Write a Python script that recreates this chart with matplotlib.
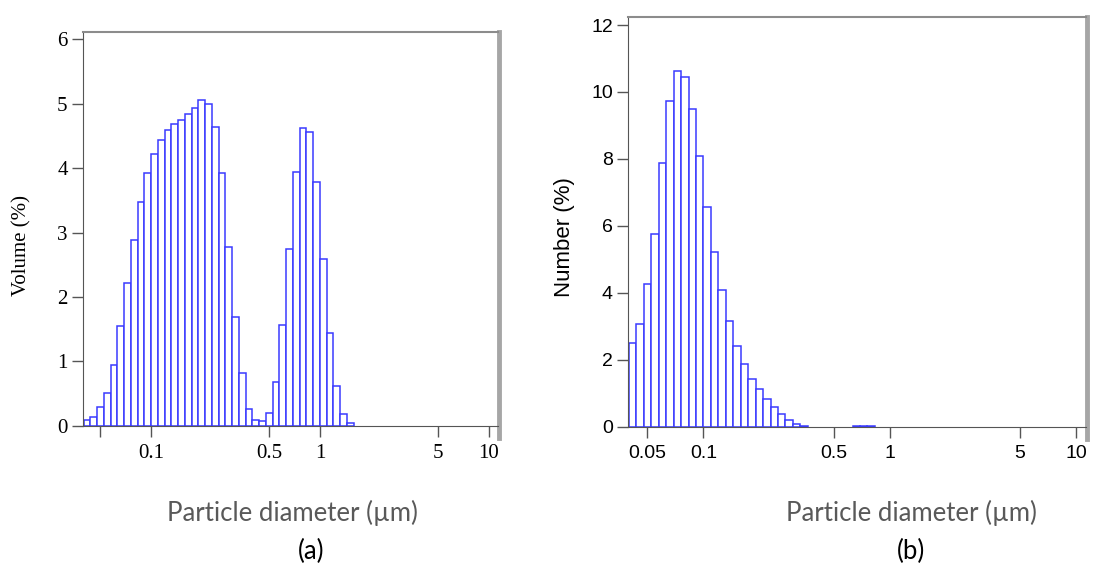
import numpy as np
import matplotlib
matplotlib.use("Agg")
import matplotlib.pyplot as plt
from matplotlib.lines import Line2D

# size classes: 25 per decade starting at 10^-1.4 um
class_edges = np.logspace(-1.4, 0.2, 41)

volume_pct = [0.09, 0.145, 0.29, 0.51, 0.94, 1.55, 2.21, 2.89, 3.47, 3.92,
              4.21, 4.43, 4.59, 4.68, 4.74, 4.84, 4.93, 5.06, 4.99, 4.63,
              3.93, 2.78, 1.69, 0.82, 0.27, 0.09, 0.08, 0.20, 0.68, 1.57,
              2.75, 3.94, 4.62, 4.56, 3.79, 2.59, 1.44, 0.62, 0.19, 0.04]

number_pct = [2.51, 3.07, 4.26, 5.76, 7.89, 9.74, 10.62, 10.46, 9.48, 8.10,
              6.57, 5.21, 4.08, 3.16, 2.42, 1.86, 1.44, 1.12, 0.84, 0.59,
              0.37, 0.20, 0.08, 0.02, 0, 0, 0, 0, 0, 0,
              0.02, 0.02, 0.02]

xticks = [0.05, 0.1, 0.5, 1, 5, 10]
xtick_labels_a = ["", "0.1", "0.5", "1", "5", "10"]
xtick_labels_b = ["0.05", "0.1", "0.5", "1", "5", "10"]
yticks_a = [0, 1, 2, 3, 4, 5, 6]
yticks_b = [0, 2, 4, 6, 8, 10, 12]

BAR = "#3a3aff"
GREY = "#595959"

fig = plt.figure(figsize=(10.93, 5.67), dpi=100)


def draw_panel(rect, values, ylim, yticks, xlabels, ylabel, font, size, lsize):
    ax = fig.add_axes(rect)
    vals = np.array(values, dtype=float)
    lo = class_edges[:len(vals)]
    hi = class_edges[1:len(vals) + 1]
    keep = vals > 0
    ax.bar(lo[keep], vals[keep], width=(hi - lo)[keep], align="edge",
           facecolor="white", edgecolor=BAR, linewidth=1.1)
    ax.set_xscale("log")
    ax.set_xlim(0.0395, 11.3)
    ax.set_ylim(*ylim)
    ax.set_xticks(xticks)
    ax.set_xticklabels(xlabels)
    ax.xaxis.set_minor_locator(matplotlib.ticker.NullLocator())
    ax.set_yticks(yticks)
    ax.tick_params(direction="out", length=8, width=1, color="#555555",
                   labelsize=size, labelcolor="black")
    ax.tick_params(axis="x", pad=5)
    ax.tick_params(axis="y", pad=3)
    for lab in ax.get_xticklabels() + ax.get_yticklabels():
        lab.set_family(font)
    ax.spines["left"].set_color("#555555")
    ax.spines["bottom"].set_color("#555555")
    ax.spines["top"].set_color("#8c8c8c")
    ax.spines["top"].set_linewidth(1.5)
    ax.spines["right"].set_visible(False)
    # thick grey frame edge on the right, running past the axis
    ax.add_line(Line2D([1.003, 1.003], [-0.03, 1.0], transform=ax.transAxes,
                       color="#a6a6a6", linewidth=3.5, clip_on=False))
    ax.set_ylabel(ylabel, family=font, fontsize=lsize)
    return ax


ax_a = draw_panel([0.0759, 0.2487, 0.3794, 0.695], volume_pct, (0, 6.11),
                  yticks_a, xtick_labels_a, "Volume (%)", "Liberation Serif",
                  15, 15)
ax_a.yaxis.set_label_coords(-0.125, 0.459)

ax_b = draw_panel([0.5748, 0.2474, 0.4188, 0.7232], number_pct, (0, 12.25),
                  yticks_b, xtick_labels_b, "Number (%)", "Liberation Sans",
                  14, 16)
ax_b.yaxis.set_label_coords(-0.116, 0.463)

# captions below each panel
fig.text(292 / 1093, 1 - 513 / 567, "Particle diameter (\u00b5m)", ha="center",
         va="center", color=GREY, fontsize=18.5, family="Lato")
fig.text(311 / 1093, 1 - 551 / 567, "(a)", ha="center", va="center",
         color="black", fontsize=18.5, family="Lato")
fig.text(911 / 1093, 1 - 513 / 567, "Particle diameter (\u00b5m)", ha="center",
         va="center", color=GREY, fontsize=18.5, family="Lato")
fig.text(911 / 1093, 1 - 551 / 567, "(b)", ha="center", va="center",
         color="black", fontsize=18.5, family="Lato")

fig.savefig("out.png", dpi=100)
